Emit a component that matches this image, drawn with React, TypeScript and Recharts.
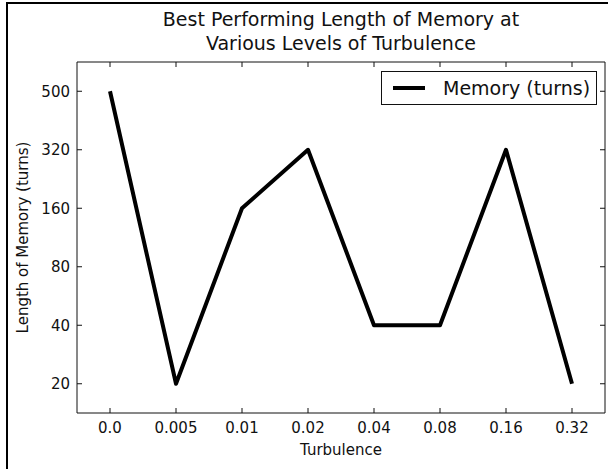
import { Line, LineChart, XAxis, YAxis } from "recharts";

// x categories (turbulence levels), y categories (memory lengths), best memory per level
const TURBULENCE = ["0.0", "0.005", "0.01", "0.02", "0.04", "0.08", "0.16", "0.32"];
const MEMORY_LEVELS = [20, 40, 80, 160, 320, 500];
const BEST_MEMORY = [500, 20, 160, 320, 40, 40, 320, 20];
const SERIES_NAME = "Memory (turns)";

const INK = "#111";
const FONT = "'DejaVu Sans', sans-serif";
const TICK_LEN = 5;

const data = TURBULENCE.map((t, i) => ({
  x: i,
  turbulence: t,
  memory: BEST_MEMORY[i],
  level: MEMORY_LEVELS.indexOf(BEST_MEMORY[i])
}));
const xTicks = TURBULENCE.map((_, i) => i);
const yTicks = MEMORY_LEVELS.map((_, i) => i);

const BottomTick = (p: any) => (
  <g>
    <line x1={p.x} x2={p.x} y1={p.y} y2={p.y - TICK_LEN} stroke={INK} />
    <text x={p.x} y={p.y + 20} textAnchor="middle" fontSize={15} fontFamily={FONT} fill={INK}>
      {TURBULENCE[p.payload.value]}
    </text>
  </g>
);
const TopTick = (p: any) => (
  <line x1={p.x} x2={p.x} y1={p.y} y2={p.y + TICK_LEN} stroke={INK} />
);
const LeftTick = (p: any) => (
  <g>
    <line x1={p.x} x2={p.x + TICK_LEN} y1={p.y} y2={p.y} stroke={INK} />
    <text x={p.x - 7} y={p.y} dy="0.36em" textAnchor="end" fontSize={15} fontFamily={FONT} fill={INK}>
      {MEMORY_LEVELS[p.payload.value]}
    </text>
  </g>
);
const RightTick = (p: any) => (
  <line x1={p.x} x2={p.x - TICK_LEN} y1={p.y} y2={p.y} stroke={INK} />
);

export default function App() {
  return (
    <div style={{ position: "absolute", left: 0, top: 0, width: 608, height: 469, overflow: "hidden", background: "#fff" }}>
      <div
        style={{
          position: "absolute",
          left: 6,
          top: 2,
          width: 700,
          height: 600,
          borderLeft: "2px solid #000",
          borderTop: "2px solid #000"
        }}
      />
      <div
        style={{
          position: "absolute",
          left: 77,
          top: 7,
          width: 528,
          textAlign: "center",
          fontFamily: FONT,
          fontSize: 19,
          lineHeight: "24px",
          color: INK
        }}
      >
        Best Performing Length of Memory at
        <br />
        Various Levels of Turbulence
      </div>
      <LineChart width={608} height={469} data={data} margin={{ top: 61, right: 2, bottom: 0, left: 0 }}>
        <XAxis
          dataKey="x"
          type="number"
          domain={[-0.5, 7.5]}
          ticks={xTicks}
          height={56}
          tickSize={0}
          tickMargin={0}
          tickLine={false}
          axisLine={{ stroke: INK }}
          tick={BottomTick}
          interval={0}
          label={{
            content: ({ viewBox }: any) => (
              <text
                x={viewBox.x + viewBox.width / 2}
                y={viewBox.y + 42}
                textAnchor="middle"
                fontSize={15}
                fontFamily={FONT}
                fill={INK}
              >
                Turbulence
              </text>
            )
          }}
        />
        <XAxis
          xAxisId="top"
          orientation="top"
          dataKey="x"
          type="number"
          domain={[-0.5, 7.5]}
          ticks={xTicks}
          height={1}
          tickSize={0}
          tickMargin={0}
          tickLine={false}
          axisLine={{ stroke: INK }}
          tick={TopTick}
          interval={0}
        />
        <YAxis
          dataKey="level"
          type="number"
          domain={[-0.5, 5.5]}
          ticks={yTicks}
          width={77}
          tickSize={0}
          tickMargin={0}
          tickLine={false}
          axisLine={{ stroke: INK }}
          tick={LeftTick}
          interval={0}
          label={{
            content: ({ viewBox }: any) => {
              const cx = viewBox.x + 28;
              const cy = viewBox.y + viewBox.height / 2;
              return (
                <text
                  x={cx}
                  y={cy}
                  transform={`rotate(-90, ${cx}, ${cy})`}
                  textAnchor="middle"
                  fontSize={15}
                  fontFamily={FONT}
                  fill={INK}
                >
                  Length of Memory (turns)
                </text>
              );
            }
          }}
        />
        <YAxis
          yAxisId="right"
          orientation="right"
          dataKey="level"
          type="number"
          domain={[-0.5, 5.5]}
          ticks={yTicks}
          width={1}
          tickSize={0}
          tickMargin={0}
          tickLine={false}
          axisLine={{ stroke: INK }}
          tick={RightTick}
          interval={0}
        />
        {/* invisible twin so the top/right frame axes get a scale */}
        <Line
          xAxisId="top"
          yAxisId="right"
          dataKey="level"
          stroke="none"
          legendType="none"
          dot={false}
          activeDot={false}
          isAnimationActive={false}
        />
        <Line
          dataKey="level"
          name={SERIES_NAME}
          stroke="#000"
          strokeWidth={4}
          strokeLinejoin="round"
          dot={false}
          activeDot={false}
          isAnimationActive={false}
        />
      </LineChart>
      <div
        style={{
          position: "absolute",
          left: 381,
          top: 71,
          width: 216,
          height: 34,
          boxSizing: "border-box",
          display: "flex",
          alignItems: "center",
          border: `1px solid ${INK}`,
          background: "#fff",
          fontFamily: FONT,
          fontSize: 19,
          color: INK
        }}
      >
        <svg width={61} height={20} style={{ flex: "none" }}>
          <line x1={11} x2={43} y1={10} y2={10} stroke="#000" strokeWidth={4} />
        </svg>
        <span style={{ whiteSpace: "nowrap" }}>{SERIES_NAME}</span>
      </div>
    </div>
  );
}
